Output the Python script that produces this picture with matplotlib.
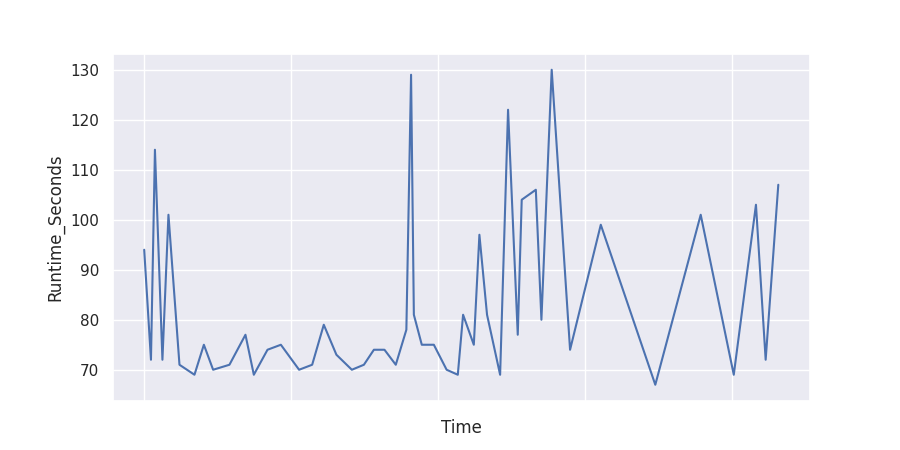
import numpy as np
import matplotlib
matplotlib.use("Agg")
import matplotlib.pyplot as plt
import seaborn as sns

# elapsed time (days from first run) and runtime per run
time_days = [0.000, 0.046, 0.073, 0.124, 0.165, 0.240, 0.342, 0.406, 0.469, 0.580,
             0.689, 0.746, 0.839, 0.930, 1.054, 1.143, 1.222, 1.308, 1.413, 1.495,
             1.563, 1.635, 1.712, 1.784, 1.816, 1.835, 1.889, 1.971, 2.058, 2.134,
             2.170, 2.243, 2.281, 2.333, 2.422, 2.476, 2.542, 2.569, 2.665, 2.703,
             2.773, 2.898, 3.107, 3.478, 3.787, 4.012, 4.163, 4.229, 4.315]
runtime_seconds = [94, 72, 114, 72, 101, 71, 69, 75, 70, 71,
                   77, 69, 74, 75, 70, 71, 79, 73, 70, 71,
                   74, 74, 71, 78, 129, 81, 75, 75, 70, 69,
                   81, 75, 97, 81, 69, 122, 77, 104, 106, 80,
                   130, 74, 99, 67, 101, 69, 103, 72, 107]
tick_pos = [0, 1, 2, 3, 4]

sns.set_theme(style="darkgrid")

fig, ax = plt.subplots(figsize=(9, 4.5), dpi=100)
sns.lineplot(x=time_days, y=runtime_seconds, ax=ax)
ax.set_xticks(tick_pos)
ax.set_xticklabels([""] * len(tick_pos))
ax.set_xlabel("Time")
ax.set_ylabel("Runtime_Seconds")

plt.savefig("out.png")
